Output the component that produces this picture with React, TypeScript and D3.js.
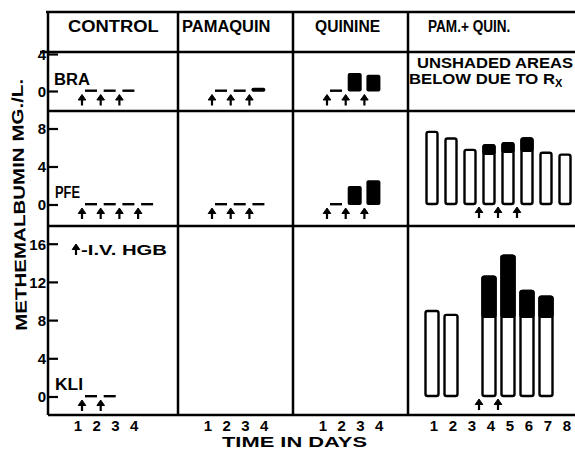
import React from "react";
import * as d3 from "d3";

// panels and patients
const treatments = ["CONTROL", "PAMAQUIN", "QUININE", "PAM.+ QUIN."];
const patients = ["BRA", "PFE", "KLI"];

// small panels (control / pamaquin / quinine): value per day, arrows = I.V. HGB days
const braControl = [0, 0, 0];
const braControlArrows = [1, 2, 3];
const pfeControl = [0, 0, 0, 0];
const pfeControlArrows = [1, 2, 3, 4];
const kliControl = [0, 0];
const kliControlArrows = [1, 2];

const braPamaquin = [0, 0, 0.4];
const braPamaquinArrows = [1, 2, 3];
const pfePamaquin = [0, 0, 0];
const pfePamaquinArrows = [1, 2, 3];

const braQuinine = [0, 2.0, 1.8];
const braQuinineArrows = [1, 2, 3];
const pfeQuinine = [0, 2.0, 2.6];
const pfeQuinineArrows = [1, 2, 3];

// pam + quin: total and unshaded (due to Rx) part, 8 days
const pfeComboTotal = [7.7, 7.0, 5.8, 6.3, 6.5, 7.0, 5.5, 5.3];
const pfeComboBase = [7.7, 7.0, 5.8, 5.4, 5.6, 5.7, 5.5, 5.3];
const pfeComboArrows = [4, 5, 6];
const kliComboTotal = [9.0, 8.6, null, 12.6, 14.8, 11.1, 10.5, null];
const kliComboBase = [9.0, 8.6, null, 8.4, 8.4, 8.4, 8.4, null];
const kliComboArrows = [4, 5];

const dayTicks4 = [1, 2, 3, 4];
const dayTicks8 = [1, 2, 3, 4, 5, 6, 7, 8];
const braTicks = [0, 4];
const pfeTicks = [0, 4, 8];
const kliTicks = [0, 4, 8, 12, 16];

// layout
const FONT = "'Liberation Sans', Arial, sans-serif";
const colX = [48, 178, 293, 408];
const rightX = 575;
const topY = 12;
const headY = 52;
const rows = [
  { top: 52, bottom: 111, zero: 91.5, unit: 9.25, ticks: braTicks },
  { top: 111, bottom: 226, zero: 205, unit: 9.5, ticks: pfeTicks },
  { top: 226, bottom: 415, zero: 397, unit: 9.55, ticks: kliTicks },
];
const yScales = rows.map((r) =>
  d3
    .scaleLinear()
    .domain([0, d3.max(r.ticks) as number])
    .range([r.zero, r.zero - (d3.max(r.ticks) as number) * r.unit])
);
const smallX = (col: number) =>
  d3.scaleLinear().domain([1, 4]).range([colX[col] + 43, colX[col] + 43 + 3 * 18.7]);
const comboX = d3.scaleLinear().domain([1, 8]).range([432, 565]);

function Arrow({ x, y, h = 11 }: { x: number; y: number; h?: number }) {
  return (
    <g>
      <line x1={x} x2={x} y1={y + 3} y2={y + h} stroke="#000" strokeWidth={2.2} />
      <path d={`M${x - 3.8},${y + 5.5} L${x},${y} L${x + 3.8},${y + 5.5} Z`} fill="#000" stroke="#000" strokeWidth={1} />
    </g>
  );
}

function SmallPanel({ col, row, values, arrows }: { col: number; row: number; values: number[]; arrows: number[] }) {
  const x = smallX(col);
  const y = yScales[row];
  const z = y(0);
  return (
    <g>
      {values.map((v, i) => {
        const cx = x(i + 1);
        if (v === 0)
          return <rect key={i} x={cx - 6} y={z - 2} width={12} height={2.4} fill="#000" />;
        const top = y(v);
        return <rect key={i} x={cx - 7} y={top} width={14} height={Math.max(z - top, 4)} rx={2} fill="#000" />;
      })}
      {arrows.map((d) => (
        <Arrow key={d} x={x(d) - 9} y={z + 3} />
      ))}
    </g>
  );
}

function ComboPanel({ row, totals, bases, arrows, w }: { row: number; totals: (number | null)[]; bases: (number | null)[]; arrows: number[]; w: number }) {
  const y = yScales[row];
  const z = y(0);
  return (
    <g>
      {totals.map((t, i) => {
        if (t == null) return null;
        const b = bases[i] as number;
        const cx = comboX(i + 1);
        return (
          <g key={i}>
            <rect x={cx - w / 2} y={y(t)} width={w} height={z - 1 - y(t)} rx={2} fill="#fff" stroke="#000" strokeWidth={2.4} />
            {t > b && <rect x={cx - w / 2} y={y(t)} width={w} height={y(b) - y(t)} rx={2} fill="#000" stroke="#000" strokeWidth={2.4} />}
          </g>
        );
      })}
      {arrows.map((d) => (
        <Arrow key={d} x={comboX(d) - 10} y={z + 2} />
      ))}
    </g>
  );
}

export default function App() {
  const headStarts = [68, 182, 315, 428];
  const headScale = [1.08, 0.97, 0.92, 0.8];
  return (
    <svg width={575} height={450} style={{ position: "absolute", left: 0, top: 0, background: "#fff" }} fontFamily={FONT}>
      <rect width={575} height={450} fill="#fff" />
      {/* frame */}
      <g stroke="#000" strokeWidth={2.5} fill="none">
        <line x1={colX[0] - 2} x2={rightX} y1={topY} y2={topY} />
        <line x1={colX[0] - 8} x2={rightX} y1={headY} y2={headY} />
        {rows.map((r, i) => (
          <line key={i} x1={colX[0]} x2={rightX} y1={r.bottom} y2={r.bottom} />
        ))}
        {colX.map((x, i) => (
          <line key={i} x1={x} x2={x} y1={topY} y2={rows[2].bottom} />
        ))}
      </g>
      {/* headers */}
      {treatments.map((t, i) => (
        <text key={t} transform={`translate(${headStarts[i]},32) scale(${headScale[i]},1)`} fontSize={17} fontWeight={700}>
          {t}
        </text>
      ))}
      {/* y ticks */}
      {rows.map((r, ri) => (
        <g key={ri}>
          {r.ticks.map((t) => (
            <g key={t}>
              <line x1={colX[0]} x2={colX[0] + 10} y1={yScales[ri](t)} y2={yScales[ri](t)} stroke="#000" strokeWidth={2.2} />
              <text x={colX[0] - 2} y={yScales[ri](t)} dy="0.36em" textAnchor="end" fontSize={15} fontWeight={700}>
                {t}
              </text>
            </g>
          ))}
        </g>
      ))}
      {/* patient labels */}
      <text x={54} y={85} fontSize={16} fontWeight={700} textLength={36} lengthAdjust="spacingAndGlyphs">{patients[0]}</text>
      <text x={55} y={198} fontSize={16} fontWeight={700} textLength={25} lengthAdjust="spacingAndGlyphs">{patients[1]}</text>
      <text x={55} y={390} fontSize={16} fontWeight={700} textLength={28} lengthAdjust="spacingAndGlyphs">{patients[2]}</text>
      {/* legend */}
      <Arrow x={76} y={244} />
      <text x={81} y={255} fontSize={15} fontWeight={700} textLength={86} lengthAdjust="spacingAndGlyphs">-I.V. HGB</text>
      <text x={417} y={68} fontSize={15} fontWeight={700} textLength={156} lengthAdjust="spacingAndGlyphs">UNSHADED AREAS</text>
      <text x={409} y={84} fontSize={15} fontWeight={700}>
        <tspan textLength={146} lengthAdjust="spacingAndGlyphs">BELOW DUE TO R</tspan>
        <tspan fontSize={11} dy={3}>X</tspan>
      </text>
      {/* panels */}
      <SmallPanel col={0} row={0} values={braControl} arrows={braControlArrows} />
      <SmallPanel col={0} row={1} values={pfeControl} arrows={pfeControlArrows} />
      <SmallPanel col={0} row={2} values={kliControl} arrows={kliControlArrows} />
      <SmallPanel col={1} row={0} values={braPamaquin} arrows={braPamaquinArrows} />
      <SmallPanel col={1} row={1} values={pfePamaquin} arrows={pfePamaquinArrows} />
      <SmallPanel col={2} row={0} values={braQuinine} arrows={braQuinineArrows} />
      <SmallPanel col={2} row={1} values={pfeQuinine} arrows={pfeQuinineArrows} />
      <ComboPanel row={1} totals={pfeComboTotal} bases={pfeComboBase} arrows={pfeComboArrows} w={11} />
      <ComboPanel row={2} totals={kliComboTotal} bases={kliComboBase} arrows={kliComboArrows} w={13} />
      {/* day labels */}
      {[0, 1, 2].map((c) =>
        dayTicks4.map((d) => (
          <text key={`${c}-${d}`} x={smallX(c)(d) - 13} y={431} textAnchor="middle" fontSize={15} fontWeight={700}>
            {d}
          </text>
        ))
      )}
      {dayTicks8.map((d) => (
        <text key={d} x={comboX(d) + 2} y={431} textAnchor="middle" fontSize={15} fontWeight={700}>
          {d}
        </text>
      ))}
      <text x={222} y={447} fontSize={15} fontWeight={700} textLength={145} lengthAdjust="spacingAndGlyphs">TIME IN DAYS</text>
      <text transform="translate(19,205) rotate(-91)" textAnchor="middle" dy="0.36em" fontSize={16} fontWeight={700} textLength={252} lengthAdjust="spacingAndGlyphs">
        METHEMALBUMIN MG./L.
      </text>
    </svg>
  );
}
